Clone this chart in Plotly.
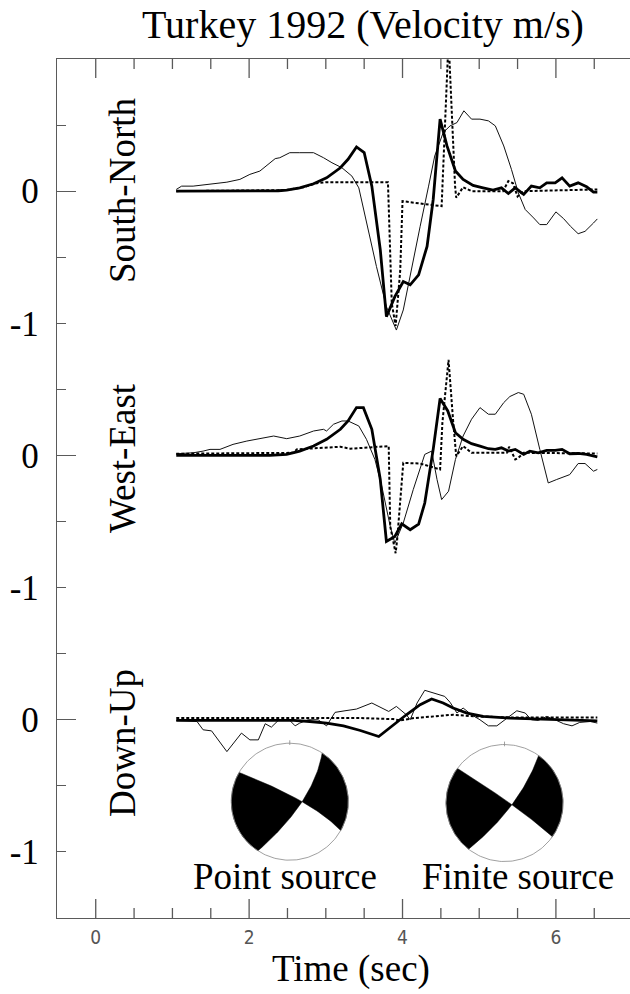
import numpy as np
import plotly.graph_objects as go

# ---------------- data (time in s, velocity in m/s) ----------------
COMPONENTS = ["South-North", "West-East", "Down-Up"]
OFFSETS = [0.0, -2.0, -4.0]

# South-North
SN_THICK_T = [1.05, 2.27, 2.38, 2.49, 2.66, 2.84, 3.01, 3.19, 3.29, 3.40, 3.50, 3.60, 3.71, 3.79, 3.90, 4.01,
              4.10, 4.21, 4.32, 4.40, 4.49, 4.58, 4.69, 4.79, 4.92, 5.05, 5.18, 5.29, 5.38, 5.47, 5.58, 5.68,
              5.79, 5.88, 5.99, 6.08, 6.18, 6.29, 6.40, 6.49, 6.54]
SN_THICK_V = [0.0, 0.0, 0.003, 0.008, 0.025, 0.056, 0.101, 0.177, 0.241, 0.335, 0.292, 0.038, -0.443, -0.950,
              -0.798, -0.684, -0.709, -0.633, -0.418, -0.063, 0.545, 0.342, 0.152, 0.089, 0.043, 0.025, 0.008,
              0.025, -0.018, 0.025, -0.025, 0.038, 0.025, 0.063, 0.063, 0.101, 0.038, 0.063, 0.033, -0.008, -0.008]
SN_THIN_T = [1.05, 1.12, 1.27, 1.49, 1.71, 1.88, 2.01, 2.14, 2.34, 2.40, 2.53, 2.66, 2.84, 2.97, 3.08, 3.21,
             3.34, 3.43, 3.53, 3.66, 3.79, 3.92, 4.01, 4.12, 4.23, 4.34, 4.42, 4.53, 4.62, 4.71, 4.80, 4.90,
             5.01, 5.12, 5.21, 5.32, 5.42, 5.51, 5.60, 5.71, 5.79, 5.88, 6.00, 6.10, 6.19, 6.29, 6.38, 6.49, 6.54]
SN_THIN_V = [0.013, 0.038, 0.038, 0.051, 0.068, 0.089, 0.127, 0.152, 0.246, 0.253, 0.291, 0.291, 0.291, 0.253,
             0.215, 0.177, 0.114, 0.025, -0.241, -0.570, -0.874, -1.051, -0.899, -0.570, -0.266, 0.038, 0.266,
             0.443, 0.494, 0.519, 0.608, 0.545, 0.545, 0.532, 0.494, 0.342, 0.165, -0.013, -0.139, -0.203,
             -0.253, -0.253, -0.157, -0.208, -0.266, -0.322, -0.304, -0.241, -0.210]
SN_DOT_T = [1.05, 2.49, 2.71, 2.88, 3.01, 3.81, 3.86, 3.91, 3.97, 4.00, 4.51, 4.60, 4.685, 4.70, 4.79, 4.90,
            5.31, 5.38, 5.44, 5.50, 5.58, 6.54]
SN_DOT_V = [0.0, 0.008, 0.03, 0.06, 0.068, 0.068, -0.85, -1.02, -0.6, -0.076, -0.114, 1.15, 0.04, -0.05, 0.03,
            0.0, 0.0, 0.076, 0.06, -0.04, 0.0, 0.013]

# West-East
WE_THICK_T = [1.05, 2.27, 2.49, 2.66, 2.84, 3.01, 3.19, 3.29, 3.40, 3.49, 3.60, 3.71, 3.79, 3.90, 3.99, 4.10,
              4.21, 4.29, 4.40, 4.49, 4.59, 4.69, 4.79, 4.90, 5.01, 5.12, 5.21, 5.29, 5.38, 5.47, 5.58, 5.66,
              5.77, 5.88, 5.99, 6.08, 6.18, 6.29, 6.40, 6.49, 6.54]
WE_THICK_V = [0.0, 0.0, 0.008, 0.033, 0.071, 0.122, 0.198, 0.261, 0.362, 0.362, 0.198, -0.182, -0.651, -0.613,
              -0.517, -0.562, -0.519, -0.360, 0.046, 0.431, 0.337, 0.172, 0.122, 0.089, 0.071, 0.051, 0.046,
              0.058, 0.033, 0.046, 0.008, 0.033, 0.020, 0.038, 0.038, 0.046, 0.013, 0.015, 0.008, -0.005, -0.010]
WE_THIN_T = [1.05, 1.27, 1.40, 1.49, 1.62, 1.79, 1.97, 2.14, 2.32, 2.49, 2.66, 2.84, 2.97, 3.01, 3.10, 3.21,
             3.29, 3.43, 3.53, 3.64, 3.73, 3.84, 3.90, 4.01, 4.14, 4.29, 4.38, 4.45, 4.51, 4.60, 4.69, 4.79,
             4.90, 5.01, 5.12, 5.21, 5.32, 5.40, 5.51, 5.58, 5.68, 5.79, 5.90, 6.01, 6.10, 6.18, 6.29, 6.38,
             6.49, 6.54]
WE_THIN_V = [0.013, 0.020, 0.033, 0.046, 0.046, 0.084, 0.109, 0.127, 0.147, 0.127, 0.147, 0.185, 0.198, 0.185,
             0.236, 0.261, 0.261, 0.223, 0.122, -0.030, -0.233, -0.537, -0.664, -0.511, -0.258, 0.008, 0.033,
             -0.182, -0.334, -0.271, -0.030, 0.147, 0.274, 0.362, 0.312, 0.312, 0.400, 0.446, 0.476, 0.463,
             0.312, 0.046, -0.208, -0.182, -0.162, -0.145, -0.061, -0.061, -0.119, -0.106]
WE_DOT_T = [1.05, 2.58, 2.62, 2.79, 3.01, 3.19, 3.32, 3.53, 3.82, 3.84, 3.91, 3.93, 4.01, 4.23, 4.49, 4.52,
            4.60, 4.66, 4.70, 4.79, 4.90, 5.36, 5.39, 5.47, 5.51, 5.58, 6.54]
WE_DOT_V = [0.013, 0.020, 0.046, 0.051, 0.058, 0.066, 0.051, 0.058, 0.071, -0.537, -0.740, -0.638, -0.056,
            -0.061, -0.106, 0.248, 0.724, 0.261, -0.005, 0.071, 0.020, 0.020, 0.066, -0.030, -0.018, 0.020, 0.015]

# Down-Up
DU_THICK_T = [1.05, 2.58, 2.79, 3.01, 3.23, 3.45, 3.69, 3.88, 4.05, 4.23, 4.38, 4.53, 4.66, 4.84, 5.05, 5.40,
              5.84, 6.27, 6.54]
DU_THICK_V = [-0.005, -0.005, -0.013, -0.025, -0.046, -0.081, -0.127, -0.038, 0.038, 0.114, 0.157, 0.127,
              0.089, 0.051, 0.025, 0.013, 0.005, -0.005, -0.008]
DU_THIN_T = [1.05, 1.32, 1.40, 1.51, 1.71, 1.90, 2.01, 2.12, 2.21, 2.29, 2.38, 2.53, 2.60, 2.66, 2.77, 2.90,
             3.01, 3.12, 3.25, 3.40, 3.60, 3.71, 3.82, 3.92, 4.05, 4.10, 4.19, 4.29, 4.45, 4.55, 4.62, 4.71,
             4.79, 4.90, 5.01, 5.12, 5.23, 5.34, 5.49, 5.60, 5.68, 5.77, 5.88, 5.99, 6.10, 6.21, 6.31, 6.45, 6.54]
DU_THIN_V = [-0.005, -0.013, -0.076, -0.084, -0.241, -0.101, -0.152, -0.152, -0.030, -0.056, -0.005, -0.005,
             -0.046, -0.025, 0.000, 0.000, -0.046, 0.056, 0.068, 0.081, 0.127, 0.096, 0.063, 0.101, 0.038,
             0.000, 0.127, 0.223, 0.198, 0.177, 0.132, 0.051, 0.089, 0.038, 0.000, -0.046, -0.046, 0.000,
             0.068, 0.051, 0.000, -0.005, 0.025, 0.000, -0.030, -0.046, -0.020, -0.013, -0.025]
DU_DOT_T = [1.05, 3.44, 3.88, 3.97, 4.15, 4.53, 4.66, 4.97, 5.40, 6.54]
DU_DOT_V = [0.013, 0.013, 0.005, -0.005, 0.013, 0.030, 0.038, 0.025, 0.018, 0.018]

THIN = [(SN_THIN_T, SN_THIN_V), (WE_THIN_T, WE_THIN_V), (DU_THIN_T, DU_THIN_V)]
THICK = [(SN_THICK_T, SN_THICK_V), (WE_THICK_T, WE_THICK_V), (DU_THICK_T, DU_THICK_V)]
DOT = [(SN_DOT_T, SN_DOT_V), (WE_DOT_T, WE_DOT_V), (DU_DOT_T, DU_DOT_V)]

# axis ticks
X_TICKVALS = [0, 2, 4, 6]
X_MINOR_TICKS = [0.5, 1.0, 1.5, 2.5, 3.0, 3.5, 4.5, 5.0, 5.5, 6.5]
Y_TICKVALS = [0, -1, -2, -3, -4, -5]
Y_TICKTEXT = ["0", "-1", "0", "-1", "0", "-1"]
Y_LONG_TICKS = [0, -2, -4]
Y_MINOR_TICKS = [0.5, -0.5, -1.5, -2.5, -3.5, -4.5]

# focal mechanisms (beach balls): centre (time, chart units), nodal planes as rim azimuths (deg)
BALL_LABELS = ["Point source", "Finite source"]
BALL_T = [2.53, 5.33]
BALL_Y = [-4.62, -4.63]
PLANE1_AZ = [(300.0, 119.6), (306.3, 125.1)]
PLANE2_AZ = [(33.6, 212.9), (35.7, 217.9)]
CROSS = [(0.21, 0.0), (0.126, -0.029)]

# ---------------- layout geometry ----------------
W, H = 630, 994
ML, MR, MT, MB = 57, 0, 59, 76
X_RANGE = [-0.505, 6.966]
Y_RANGE = [-5.5, 1.0]
PW, PH = W - ML - MR, H - MT - MB
XS = PW / (X_RANGE[1] - X_RANGE[0])
YS = PH / (Y_RANGE[1] - Y_RANGE[0])
BALL_R_PX = 58.5
MAJOR_LEN, MINOR_LEN = 19, 10


def px_x(px):
    return X_RANGE[0] + (px - ML) / XS


def px_y(py):
    return Y_RANGE[1] - (py - MT) / YS


def paper_x(px):
    return (px - ML) / PW


def paper_y(py):
    return (H - MB - py) / PH


SERIF = "Liberation Serif, Times New Roman, serif"
AXCOL = "#5a5a5a"

fig = go.Figure()

for i in range(3):
    off = OFFSETS[i]
    t, v = THIN[i]
    fig.add_trace(go.Scatter(x=t, y=[off + a for a in v], mode="lines",
                             line=dict(color="#111111", width=1), hoverinfo="skip"))
    t, v = DOT[i]
    fig.add_trace(go.Scatter(x=t, y=[off + a for a in v], mode="lines",
                             line=dict(color="black", width=2, dash="3px,2px"), hoverinfo="skip"))
    t, v = THICK[i]
    fig.add_trace(go.Scatter(x=t, y=[off + a for a in v], mode="lines",
                             line=dict(color="black", width=2.8), hoverinfo="skip"))


# beach balls
def quad(p0, x, p1, s):
    c = 2 * x - (p0 + p1) / 2
    s = s[:, None]
    return (1 - s) ** 2 * p0 + 2 * (1 - s) * s * c + s ** 2 * p1


def rim(a0, a1, n=60):
    if a1 < a0:
        a1 += 360
    a = np.radians(np.linspace(a0, a1, n))
    return np.column_stack([np.sin(a), np.cos(a)])


def az_pt(a):
    r = np.radians(a)
    return np.array([np.sin(r), np.cos(r)])


for k in range(2):
    tc, yc = BALL_T[k], BALL_Y[k]
    rx, ry = BALL_R_PX / XS, BALL_R_PX / YS
    A, B = az_pt(PLANE1_AZ[k][0]), az_pt(PLANE1_AZ[k][1])
    C, D = az_pt(PLANE2_AZ[k][0]), az_pt(PLANE2_AZ[k][1])
    X = np.array(CROSS[k])
    h1 = np.linspace(0, 0.5, 30)
    h2 = np.linspace(0.5, 1, 30)
    left = np.vstack([rim(PLANE2_AZ[k][1], PLANE1_AZ[k][0]),
                      quad(A, X, B, h1), quad(C, X, D, h2)])
    right = np.vstack([rim(PLANE2_AZ[k][0], PLANE1_AZ[k][1]),
                       quad(A, X, B, h2[::-1]), quad(C, X, D, h1[::-1])])
    for poly in (left, right):
        fig.add_trace(go.Scatter(x=tc + poly[:, 0] * rx, y=yc + poly[:, 1] * ry, mode="lines",
                                 fill="toself", fillcolor="black", line=dict(color="black", width=0.5),
                                 hoverinfo="skip"))
    circ = rim(0, 360, 200)
    fig.add_trace(go.Scatter(x=tc + circ[:, 0] * rx, y=yc + circ[:, 1] * ry, mode="lines",
                             line=dict(color="#888888", width=0.8), hoverinfo="skip"))
    fig.add_trace(go.Scatter(x=[tc, tc], y=[yc + 0.97 * ry, yc + 1.05 * ry], mode="lines",
                             line=dict(color="#888888", width=0.8), hoverinfo="skip"))

# time-axis tick marks on bottom and top frame (inside), built from the tick lists
tx, ty = [], []
for vals, ln in ((X_TICKVALS, MAJOR_LEN), (X_MINOR_TICKS, MINOR_LEN)):
    for v in vals:
        tx += [v, v, None, v, v, None]
        ty += [Y_RANGE[0], Y_RANGE[0] + ln / YS, None, Y_RANGE[1], Y_RANGE[1] - ln / YS, None]
fig.add_trace(go.Scatter(x=tx, y=ty, mode="lines", line=dict(color=AXCOL, width=1.3), hoverinfo="skip"))

# dummy trace for the long-tick overlay y axis
fig.add_trace(go.Scatter(x=[None], y=[None], xaxis="x", yaxis="y2", hoverinfo="skip"))

annotations = []
label_py = [190, 458, 743]
for name, py in zip(COMPONENTS, label_py):
    annotations.append(dict(x=px_x(122), y=px_y(py), xref="x", yref="y", text=name, showarrow=False,
                            textangle=-90, font=dict(family=SERIF, size=37, color="black"),
                            xanchor="center", yanchor="middle"))
for name, px in zip(BALL_LABELS, [285, 517.5]):
    annotations.append(dict(x=paper_x(px), y=paper_y(876), xref="paper", yref="paper", text=name,
                            showarrow=False, font=dict(family=SERIF, size=37, color="black"),
                            xanchor="center", yanchor="middle"))
annotations.append(dict(x=paper_x(351), y=paper_y(969), xref="paper", yref="paper", text="Time (sec)",
                        showarrow=False, font=dict(family=SERIF, size=37, color="black"),
                        xanchor="center", yanchor="middle"))

fig.update_layout(
    width=W, height=H,
    margin=dict(l=ML, r=MR, t=MT, b=MB, pad=0),
    paper_bgcolor="white", plot_bgcolor="white",
    showlegend=False,
    title=dict(text="Turkey 1992 (Velocity m/s)", x=363 / W, xanchor="center", y=1 - 24 / H,
               yanchor="middle", font=dict(family=SERIF, size=40, color="black")),
    xaxis=dict(range=X_RANGE, showline=True, linecolor=AXCOL, linewidth=1.3, mirror=True,
               ticks="", tickmode="array", tickvals=X_TICKVALS, showgrid=False, zeroline=False,
               tickfont=dict(family="Liberation Sans Narrow, DejaVu Sans Condensed, sans-serif",
                             size=19, color="#555555"),
               ticklabelstandoff=2),
    yaxis=dict(range=Y_RANGE, showline=True, linecolor=AXCOL, linewidth=1.3, ticks="inside",
               tickmode="array", tickvals=Y_TICKVALS, ticktext=Y_TICKTEXT, ticklen=9, tickwidth=1.3,
               tickcolor=AXCOL, showgrid=False, zeroline=False,
               minor=dict(ticks="inside", tickvals=Y_MINOR_TICKS, ticklen=9, tickwidth=1.3,
                          tickcolor=AXCOL, showgrid=False),
               tickfont=dict(family=SERIF, size=35, color="black"), ticklabelstandoff=10),
    yaxis2=dict(range=Y_RANGE, overlaying="y", anchor="x", side="left", showline=False,
                ticks="inside", tickmode="array", tickvals=Y_LONG_TICKS, ticklen=MAJOR_LEN, tickwidth=1.3,
                tickcolor=AXCOL, showticklabels=False, showgrid=False, zeroline=False),
    annotations=annotations,
)

fig.write_html("out.html", config={"displayModeBar": False},
               post_script="document.body.style.margin='0';")
